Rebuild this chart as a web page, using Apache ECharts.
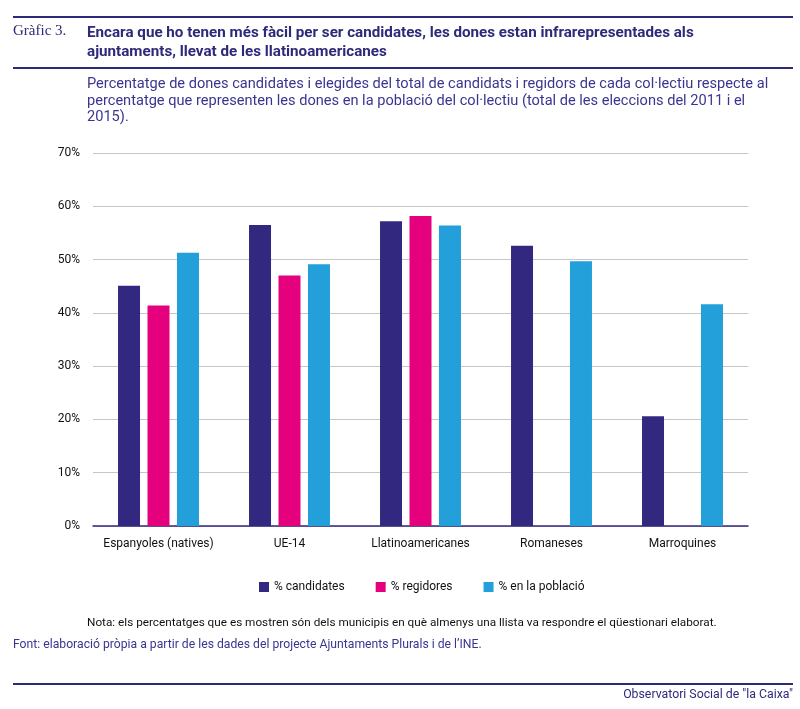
<!DOCTYPE html>
<html><head><meta charset="utf-8">
<script src="https://cdn.jsdelivr.net/npm/echarts@6/dist/echarts.min.js"></script>
<style>html,body{margin:0;padding:0;background:#fff}#c{width:800px;height:709px}</style>
</head><body><div id="c"></div>
<script>
const categories = ['Espanyoles (natives)', 'UE-14', 'Llatinoamericanes', 'Romaneses', 'Marroquines'];
const candidates = [45.1, 56.5, 57.2, 52.6, 20.6];
const regidores = [41.4, 47.0, 58.2, null, null];
const poblacio = [51.3, 49.1, 56.4, 49.7, 41.6];
const seriesNames = ['% candidates', '% regidores', '% en la població'];
const yTicks = [0, 10, 20, 30, 40, 50, 60, 70];

const purple = '#32287f';
const textPurple = '#3b3590';
const chart = echarts.init(document.getElementById('c'), null, {renderer: 'canvas'});
const font = 'Roboto, "Noto Sans", sans-serif';
chart.setOption({
  animation: false,
  textStyle: {fontFamily: font},
  grid: {left: 93, right: 52, top: 153, bottom: 183},
  legend: {
    data: seriesNames, left: 254, top: 576, icon: 'rect', itemWidth: 10, itemHeight: 10,
    itemGap: 31, textStyle: {fontSize: 12, color: '#111', fontFamily: font}
  },
  xAxis: {
    type: 'category', data: categories,
    axisLine: {lineStyle: {color: purple, width: 1.5}},
    axisTick: {show: false},
    axisLabel: {fontSize: 12, color: '#111', margin: 12, interval: 0, fontFamily: font}
  },
  yAxis: {
    type: 'value', min: yTicks[0], max: yTicks[yTicks.length - 1], interval: 10,
    axisLine: {show: false}, axisTick: {show: false},
    splitLine: {lineStyle: {color: '#c6c6c6', width: 1}},
    axisLabel: {fontSize: 12, color: '#111', margin: 13, formatter: '{value}%', fontFamily: font}
  },
  series: [
    {name: seriesNames[0], type: 'bar', data: candidates, barWidth: 22, barGap: '34%', itemStyle: {color: purple}},
    {name: seriesNames[1], type: 'bar', data: regidores, barWidth: 22, barGap: '34%', itemStyle: {color: '#e5007e'}},
    {name: seriesNames[2], type: 'bar', data: poblacio, barWidth: 22, barGap: '34%', itemStyle: {color: '#239fda'}}
  ],
  graphic: [
    {type: 'line', shape: {x1: 13, y1: 17, x2: 793, y2: 17}, style: {stroke: '#2e2a7a', lineWidth: 2}},
    {type: 'line', shape: {x1: 13, y1: 68, x2: 793, y2: 68}, style: {stroke: '#2e2a7a', lineWidth: 2}},
    {type: 'text', left: 13, top: 24, style: {text: 'Gràfic 3.', font: '15px "Liberation Serif", "DejaVu Serif", serif', fill: '#2e2a7a'}},
    {type: 'text', left: 87, top: 23.5, style: {text: 'Encara que ho tenen més fàcil per ser candidates, les dones estan infrarepresentades als\najuntaments, llevat de les llatinoamericanes', font: 'bold 15.2px ' + font, fill: '#2e2a7a', lineHeight: 19}},
    {type: 'text', left: 87, top: 76.5, style: {text: 'Percentatge de dones candidates i elegides del total de candidats i regidors de cada col·lectiu respecte al\npercentatge que representen les dones en la població del col·lectiu (total de les eleccions del 2011 i el\n2015).', font: '14.6px ' + font, fill: textPurple, lineHeight: 16.5}},
    {type: 'text', left: 87, top: 617, style: {text: 'Nota: els percentatges que es mostren són dels municipis en què almenys una llista va respondre el qüestionari elaborat.', font: '11.75px ' + font, fill: '#111'}},
    {type: 'text', left: 13, top: 639, style: {text: 'Font: elaboració pròpia a partir de les dades del projecte Ajuntaments Plurals i de l’INE.', font: '12.2px ' + font, fill: textPurple}},
    {type: 'line', shape: {x1: 13, y1: 684, x2: 793, y2: 684}, style: {stroke: '#2e2a7a', lineWidth: 2}},
    {type: 'text', right: 7, top: 689, style: {text: 'Observatori Social de "la Caixa"', font: '12.3px ' + font, fill: '#2e2a7a'}}
  ]
});
</script></body></html>
